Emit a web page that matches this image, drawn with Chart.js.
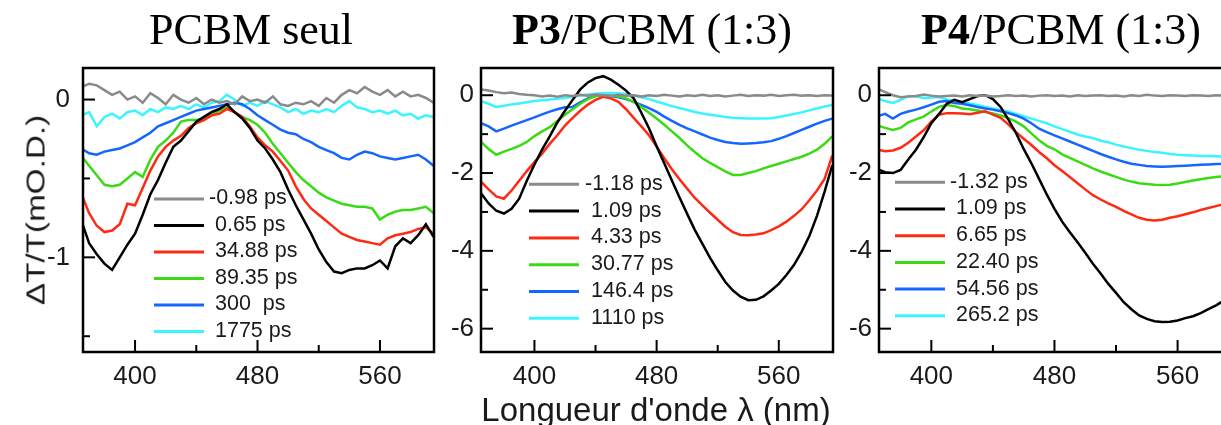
<!DOCTYPE html>
<html><head><meta charset="utf-8">
<script src="https://cdn.jsdelivr.net/npm/chart.js@4.4.0/dist/chart.umd.min.js"></script>
<style>
html,body{margin:0;padding:0;background:#fff;}
body{width:1221px;height:425px;overflow:hidden;position:relative;}
canvas{position:absolute;top:0;}
.t{position:absolute;top:8px;font:44px/44px 'Liberation Serif','Times New Roman',serif;color:#000;white-space:nowrap;transform:translateX(-50%);}
.xt{position:absolute;top:393px;left:656px;font:33px/33px 'Liberation Sans',Arial,sans-serif;color:#1a1a1a;white-space:nowrap;transform:translateX(-50%);}
.yt{position:absolute;left:36px;top:210px;font:25px/25px 'Liberation Sans',Arial,sans-serif;color:#1a1a1a;white-space:nowrap;transform:translate(-50%,-50%) rotate(-90deg) scaleX(1.33);}
</style></head><body>
<canvas id="c1" width="440" height="425" style="left:0px"></canvas>
<canvas id="c2" width="400" height="425" style="left:440px"></canvas>
<canvas id="c3" width="400" height="425" style="left:840px"></canvas>
<div class="t" style="left:251px">PCBM seul</div>
<div class="t" style="left:652px"><b>P3</b>/PCBM (1:3)</div>
<div class="t" style="left:1061px"><b>P4</b>/PCBM (1:3)</div>
<div class="yt">ΔT/T(mO.D.)</div>
<div class="xt">Longueur d'onde λ (nm)</div>
<script>
// ---------- data ----------
const wavelength = [365,370,375,380,385,390,395,400,405,410,415,420,425,430,435,440,445,450,455,460,465,470,475,480,485,490,495,500,505,510,515,520,525,530,535,540,545,550,555,560,565,570,575,580,585,590,595];

// Panel 1 : PCBM seul
const p1Labels = ["-0.98 ps"," 0.65 ps"," 34.88 ps"," 89.35 ps"," 300  ps"," 1775 ps"];
const p1Gray  = [0.08,0.10,0.09,0.06,0.03,0.05,0.00,0.02,-0.02,0.04,0.01,-0.03,0.03,0.00,-0.02,0.01,-0.03,0.00,-0.02,-0.01,-0.03,0.02,-0.01,0.00,-0.02,0.02,-0.03,-0.04,-0.02,-0.03,-0.01,-0.04,0.01,-0.02,0.03,0.06,0.04,0.08,0.05,0.03,0.06,0.02,0.05,0.02,0.03,0.01,-0.02];
const p1Black = [-0.77,-0.91,-0.98,-1.04,-1.08,-1.00,-0.92,-0.85,-0.73,-0.60,-0.51,-0.40,-0.30,-0.26,-0.20,-0.14,-0.11,-0.08,-0.06,-0.03,-0.08,-0.12,-0.18,-0.26,-0.31,-0.38,-0.46,-0.57,-0.67,-0.76,-0.85,-0.95,-1.03,-1.09,-1.10,-1.08,-1.07,-1.07,-1.05,-1.02,-1.07,-0.93,-0.88,-0.91,-0.86,-0.79,-0.87];
const p1Red   = [-0.60,-0.72,-0.80,-0.84,-0.83,-0.79,-0.66,-0.67,-0.56,-0.45,-0.36,-0.30,-0.26,-0.23,-0.18,-0.15,-0.13,-0.10,-0.09,-0.06,-0.08,-0.11,-0.17,-0.24,-0.29,-0.33,-0.39,-0.45,-0.55,-0.63,-0.69,-0.73,-0.77,-0.81,-0.85,-0.87,-0.89,-0.90,-0.91,-0.92,-0.88,-0.86,-0.85,-0.84,-0.82,-0.81,-0.85];
const p1Green = [-0.36,-0.42,-0.48,-0.54,-0.55,-0.54,-0.50,-0.46,-0.49,-0.38,-0.30,-0.26,-0.21,-0.14,-0.13,-0.13,-0.12,-0.10,-0.07,-0.05,-0.08,-0.11,-0.13,-0.16,-0.21,-0.28,-0.34,-0.40,-0.46,-0.51,-0.55,-0.59,-0.62,-0.64,-0.66,-0.67,-0.68,-0.68,-0.69,-0.76,-0.73,-0.71,-0.70,-0.70,-0.69,-0.68,-0.72];
const p1Blue  = [-0.31,-0.34,-0.35,-0.33,-0.32,-0.31,-0.29,-0.27,-0.24,-0.21,-0.17,-0.15,-0.13,-0.11,-0.09,-0.07,-0.06,-0.05,-0.04,-0.03,-0.02,-0.03,-0.06,-0.10,-0.13,-0.16,-0.19,-0.21,-0.22,-0.25,-0.27,-0.30,-0.32,-0.34,-0.37,-0.38,-0.35,-0.33,-0.34,-0.36,-0.37,-0.38,-0.37,-0.36,-0.35,-0.38,-0.42];
const p1Cyan  = [-0.10,-0.08,-0.17,-0.11,-0.09,-0.12,-0.08,-0.07,-0.10,-0.06,-0.08,-0.05,-0.06,-0.04,-0.06,-0.03,-0.05,-0.02,-0.01,0.03,0.00,-0.04,-0.02,-0.04,-0.01,-0.03,-0.05,-0.08,-0.06,-0.09,-0.07,-0.08,-0.06,-0.08,-0.04,-0.01,-0.05,-0.06,-0.08,-0.07,-0.09,-0.07,-0.10,-0.09,-0.12,-0.10,-0.11];

// Panel 2 : P3/PCBM (1:3)
const p2Labels = ["-1.18 ps"," 1.09 ps"," 4.33 ps"," 30.77 ps"," 146.4 ps"," 1110 ps"];
const p2Gray  = [0.15,0.12,0.08,0.05,0.07,0.03,0.01,0.00,-0.03,-0.01,-0.04,0.00,-0.02,0.01,-0.01,0.02,0.00,-0.02,0.01,-0.01,0.00,-0.03,0.00,-0.02,0.01,-0.01,-0.03,0.00,-0.02,0.01,-0.02,0.00,-0.03,-0.01,0.01,-0.02,0.00,-0.01,0.01,-0.02,0.00,0.01,-0.01,0.00,-0.02,0.00,-0.01];
const p2Black = [-2.52,-2.78,-2.97,-3.04,-2.92,-2.66,-2.20,-1.78,-1.40,-1.06,-0.70,-0.40,-0.12,0.15,0.33,0.44,0.49,0.40,0.27,0.12,-0.08,-0.45,-0.85,-1.31,-1.75,-2.19,-2.63,-3.05,-3.46,-3.82,-4.18,-4.50,-4.80,-5.02,-5.18,-5.27,-5.26,-5.17,-5.02,-4.85,-4.62,-4.36,-4.02,-3.62,-3.10,-2.48,-1.80];
const p2Red   = [-2.22,-2.42,-2.60,-2.66,-2.45,-2.20,-1.95,-1.72,-1.50,-1.25,-1.03,-0.78,-0.58,-0.40,-0.24,-0.12,-0.04,-0.08,-0.17,-0.36,-0.58,-0.80,-1.03,-1.32,-1.62,-1.90,-2.16,-2.40,-2.64,-2.83,-3.02,-3.20,-3.38,-3.52,-3.59,-3.60,-3.58,-3.55,-3.47,-3.37,-3.25,-3.10,-2.93,-2.70,-2.45,-2.15,-1.55];
const p2Green = [-1.20,-1.38,-1.53,-1.45,-1.38,-1.30,-1.20,-1.05,-0.93,-0.82,-0.66,-0.50,-0.36,-0.22,-0.10,-0.02,0.00,-0.01,-0.03,-0.08,-0.17,-0.30,-0.45,-0.60,-0.76,-0.93,-1.10,-1.29,-1.46,-1.62,-1.74,-1.85,-1.96,-2.05,-2.05,-2.00,-1.95,-1.88,-1.82,-1.76,-1.70,-1.64,-1.58,-1.50,-1.40,-1.25,-1.06];
const p2Blue  = [-0.72,-0.80,-0.93,-0.86,-0.78,-0.71,-0.64,-0.57,-0.49,-0.42,-0.36,-0.31,-0.30,-0.18,-0.08,-0.02,0.00,-0.02,-0.05,-0.10,-0.17,-0.25,-0.33,-0.43,-0.55,-0.66,-0.76,-0.85,-0.93,-1.01,-1.09,-1.15,-1.20,-1.23,-1.25,-1.24,-1.23,-1.21,-1.18,-1.12,-1.05,-0.97,-0.89,-0.81,-0.73,-0.66,-0.60];
const p2Cyan  = [-0.15,-0.22,-0.30,-0.27,-0.24,-0.21,-0.18,-0.15,-0.13,-0.11,-0.09,-0.07,-0.04,-0.01,0.02,0.04,0.06,0.06,0.05,0.03,-0.01,-0.05,-0.10,-0.16,-0.22,-0.28,-0.33,-0.38,-0.43,-0.47,-0.50,-0.53,-0.56,-0.58,-0.59,-0.60,-0.60,-0.60,-0.59,-0.56,-0.52,-0.48,-0.44,-0.39,-0.34,-0.29,-0.25];

// Panel 3 : P4/PCBM (1:3)
const p3Labels = ["-1.32 ps"," 1.09 ps"," 6.65 ps"," 22.40 ps"," 54.56 ps"," 265.2 ps"];
const p3Gray  = [0.17,0.08,0.00,-0.05,-0.03,-0.02,0.02,-0.01,-0.03,-0.02,-0.01,-0.03,0.00,-0.02,-0.01,-0.03,-0.02,0.00,-0.02,-0.01,-0.03,-0.01,0.00,-0.02,-0.01,-0.03,0.00,-0.02,-0.01,0.00,-0.02,-0.01,-0.03,0.00,-0.02,0.01,-0.01,-0.02,0.00,-0.01,-0.02,0.00,-0.01,-0.02,0.00,-0.01,-0.02];
const p3Black = [-1.90,-1.98,-2.00,-1.92,-1.65,-1.40,-1.08,-0.72,-0.48,-0.22,-0.12,-0.18,-0.10,-0.02,0.00,-0.10,-0.30,-0.62,-0.97,-1.38,-1.75,-2.15,-2.55,-2.92,-3.25,-3.52,-3.78,-4.05,-4.33,-4.58,-4.85,-5.08,-5.32,-5.50,-5.66,-5.75,-5.81,-5.83,-5.82,-5.79,-5.73,-5.68,-5.60,-5.50,-5.40,-5.28,-5.12];
const p3Red   = [-1.40,-1.44,-1.42,-1.35,-1.22,-1.06,-0.90,-0.68,-0.50,-0.46,-0.46,-0.47,-0.49,-0.45,-0.41,-0.50,-0.58,-0.75,-0.95,-1.12,-1.28,-1.46,-1.62,-1.80,-1.95,-2.10,-2.26,-2.42,-2.57,-2.68,-2.78,-2.87,-2.97,-3.06,-3.15,-3.20,-3.22,-3.20,-3.15,-3.11,-3.06,-3.01,-2.95,-2.90,-2.85,-2.80,-2.74];
const p3Green = [-0.78,-0.84,-0.89,-0.84,-0.70,-0.62,-0.55,-0.42,-0.30,-0.25,-0.28,-0.34,-0.36,-0.39,-0.43,-0.47,-0.52,-0.59,-0.68,-0.80,-0.98,-1.16,-1.30,-1.39,-1.52,-1.61,-1.70,-1.79,-1.88,-1.96,-2.03,-2.10,-2.17,-2.22,-2.26,-2.28,-2.30,-2.31,-2.30,-2.27,-2.23,-2.19,-2.16,-2.13,-2.10,-2.08,-2.06];
const p3Blue  = [-0.54,-0.48,-0.60,-0.48,-0.42,-0.37,-0.31,-0.24,-0.17,-0.15,-0.20,-0.22,-0.26,-0.30,-0.34,-0.37,-0.41,-0.46,-0.52,-0.60,-0.72,-0.86,-0.95,-1.03,-1.11,-1.19,-1.27,-1.35,-1.43,-1.51,-1.58,-1.65,-1.71,-1.76,-1.79,-1.82,-1.83,-1.84,-1.83,-1.82,-1.81,-1.80,-1.79,-1.78,-1.77,-1.76,-1.74];
const p3Cyan  = [-0.08,-0.15,-0.20,-0.12,-0.02,-0.03,-0.07,-0.06,-0.05,-0.11,-0.15,-0.18,-0.21,-0.25,-0.30,-0.34,-0.38,-0.42,-0.48,-0.54,-0.60,-0.66,-0.72,-0.80,-0.87,-0.94,-1.01,-1.06,-1.10,-1.17,-1.21,-1.27,-1.32,-1.36,-1.40,-1.43,-1.46,-1.48,-1.51,-1.53,-1.54,-1.55,-1.56,-1.56,-1.57,-1.58,-1.60];

// ticks
const xMajorTicks = [400,480,560];
const xMinorTicks = [440,520];
const p1YMajor = [0,-1];
const p1YMinor = [-0.5,-1.5];
const pYMajor = [0,-2,-4,-6];
const pYMinor = [-1,-3,-5];

const seriesColors = ['#8a8a8a','#000000','#ff2a14','#3ada14','#1466ff','#3cf4ff'];

// ---------- drawing ----------
Chart.defaults.font.family = "'Liberation Sans', Arial, sans-serif";

const deco = {
  id: 'deco',
  afterDatasetsDraw(chart, args, o) {
    const {ctx, chartArea:{left,right,top,bottom}, scales:{x,y}} = chart;
    const seg = (a,b,c,d)=>{ctx.beginPath();ctx.moveTo(a,b);ctx.lineTo(c,d);ctx.stroke();};
    ctx.save();
    // legend
    ctx.font = "21.5px 'Liberation Sans', Arial, sans-serif";
    ctx.textBaseline = 'middle';
    ctx.textAlign = 'left';
    ctx.lineCap = 'butt';
    o.labels.forEach((lab,i)=>{
      const yy = o.ly0 + i*o.ldy;
      ctx.strokeStyle = seriesColors[i]; ctx.lineWidth = 3;
      seg(o.lx0, yy, o.lx1, yy);
      ctx.fillStyle = '#1a1a1a';
      ctx.fillText(lab, o.tx, yy - 0.5);
    });
    // frame
    ctx.strokeStyle = '#000'; ctx.lineWidth = 2.5;
    ctx.strokeRect(left, top, right-left, bottom-top);
    // inward ticks
    ctx.lineWidth = 2;
    o.xMajor.forEach(v=>{const p=x.getPixelForValue(v); seg(p,bottom,p,bottom-12);});
    o.xMinor.forEach(v=>{const p=x.getPixelForValue(v); seg(p,bottom,p,bottom-7);});
    o.yMajor.forEach(v=>{const p=y.getPixelForValue(v); seg(left,p,left+12,p);});
    o.yMinor.forEach(v=>{const p=y.getPixelForValue(v); seg(left,p,left+7,p);});
    ctx.restore();
  }
};

function makeChart(id, series, labels, cfg) {
  const datasets = series.map((s,i)=>({
    label: labels[i],
    data: wavelength.map((w,k)=>({x:w, y:s[k]})),
    borderColor: seriesColors[i],
    borderWidth: 2.5,
    pointRadius: 0,
    tension: 0,
    fill: false
  }));
  return new Chart(document.getElementById(id), {
    type: 'line',
    data: { datasets },
    options: {
      responsive: false,
      animation: false,
      devicePixelRatio: 1,
      layout: { padding: { left: 0, right: cfg.padRight, top: 68, bottom: 0 } },
      plugins: {
        legend: { display: false },
        tooltip: { enabled: false },
        deco: { labels, lx0: cfg.lx0, lx1: cfg.lx1, tx: cfg.tx, ly0: cfg.ly0, ldy: cfg.ldy,
                xMajor: xMajorTicks, xMinor: xMinorTicks, yMajor: cfg.yMajor, yMinor: cfg.yMinor }
      },
      scales: {
        x: {
          type: 'linear', min: cfg.xmin, max: cfg.xmax,
          grid: { display: false, drawTicks: false }, border: { display: false },
          afterBuildTicks: (s)=>{ s.ticks = xMajorTicks.map(v=>({value:v})); },
          afterFit: (s)=>{ s.height = 73; },
          ticks: { padding: 9, color: '#1a1a1a', font: { size: 26 }, maxRotation: 0, autoSkip: false,
                   callback: (v)=>String(v) }
        },
        y: {
          type: 'linear', min: cfg.ymin, max: cfg.ymax,
          grid: { display: false, drawTicks: false }, border: { display: false },
          afterBuildTicks: (s)=>{ s.ticks = cfg.yMajor.map(v=>({value:v})); },
          afterFit: (s)=>{ s.width = cfg.yWidth; },
          ticks: { padding: cfg.yPad, color: '#1a1a1a', font: { size: 26 }, autoSkip: false,
                   callback: (v)=>String(v) }
        }
      }
    },
    plugins: [deco]
  });
}

makeChart('c1', [p1Gray,p1Black,p1Red,p1Green,p1Blue,p1Cyan], p1Labels, {
  xmin: 366, xmax: 595.3, ymin: -1.6, ymax: 0.2, yWidth: 83, yPad: 13, padRight: 6,
  yMajor: p1YMajor, yMinor: p1YMinor, lx0: 154, lx1: 204, tx: 209, ly0: 199, ldy: 26.5
});
makeChart('c2', [p2Gray,p2Black,p2Red,p2Green,p2Blue,p2Cyan], p2Labels, {
  xmin: 365, xmax: 595.5, ymin: -6.6, ymax: 0.7, yWidth: 41, yPad: 7, padRight: 7,
  yMajor: pYMajor, yMinor: pYMinor, lx0: 89, lx1: 139, tx: 145, ly0: 184.3, ldy: 26.8
});
makeChart('c3', [p3Gray,p3Black,p3Red,p3Green,p3Blue,p3Cyan], p3Labels, {
  xmin: 366, xmax: 596, ymin: -6.6, ymax: 0.7, yWidth: 39, yPad: 7, padRight: 7,
  yMajor: pYMajor, yMinor: pYMinor, lx0: 55, lx1: 105, tx: 110, ly0: 182.3, ldy: 26.7
});
</script>
</body></html>
